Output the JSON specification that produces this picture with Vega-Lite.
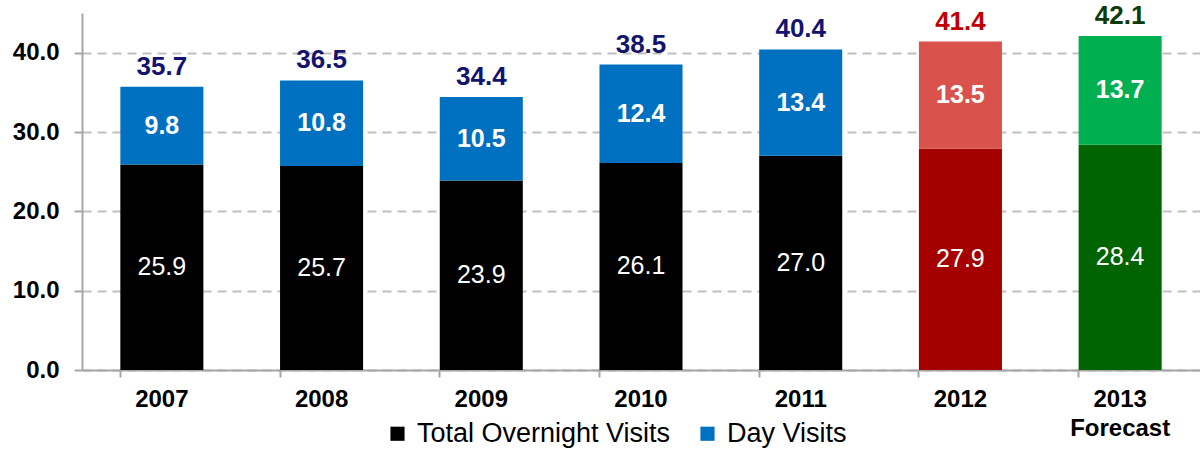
{
  "$schema": "https://vega.github.io/schema/vega-lite/v6.json",
  "width": 1118,
  "height": 357,
  "autosize": {"type": "none"},
  "padding": {"left": 82, "top": 13, "right": 0, "bottom": 79},
  "background": "white",
  "config": {
    "view": {"stroke": null},
    "font": "Liberation Sans"
  },
  "datasets": {
    "bars": [
      {"year": "2007", "series": "Total Overnight Visits", "value": 25.9},
      {"year": "2007", "series": "Day Visits", "value": 9.8},
      {"year": "2008", "series": "Total Overnight Visits", "value": 25.7},
      {"year": "2008", "series": "Day Visits", "value": 10.8},
      {"year": "2009", "series": "Total Overnight Visits", "value": 23.9},
      {"year": "2009", "series": "Day Visits", "value": 10.5},
      {"year": "2010", "series": "Total Overnight Visits", "value": 26.1},
      {"year": "2010", "series": "Day Visits", "value": 12.4},
      {"year": "2011", "series": "Total Overnight Visits", "value": 27.0},
      {"year": "2011", "series": "Day Visits", "value": 13.4},
      {"year": "2012", "series": "Total Overnight Visits", "value": 27.9},
      {"year": "2012", "series": "Day Visits", "value": 13.5},
      {"year": "2013", "series": "Total Overnight Visits", "value": 28.4},
      {"year": "2013", "series": "Day Visits", "value": 13.7}
    ],
    "totals": [
      {"year": "2007", "total": 35.7},
      {"year": "2008", "total": 36.5},
      {"year": "2009", "total": 34.4},
      {"year": "2010", "total": 38.5},
      {"year": "2011", "total": 40.4},
      {"year": "2012", "total": 41.4},
      {"year": "2013", "total": 42.1}
    ]
  },
  "encoding": {
    "x": {
      "field": "year",
      "type": "nominal",
      "sort": null,
      "scale": {"paddingInner": 0.48, "paddingOuter": 0.24},
      "axis": {
        "title": null,
        "labelAngle": 0,
        "labelFont": "Liberation Sans",
        "labelFontSize": 24,
        "labelFontWeight": "bold",
        "labelColor": "#000000",
        "labelPadding": 10,
        "labelLineHeight": 29,
        "labelExpr": "datum.value == '2013' ? ['2013', 'Forecast'] : datum.label",
        "bandPosition": 0,
        "domainColor": "#A6A6A6",
        "domainWidth": 2,
        "tickColor": "#A6A6A6",
        "tickWidth": 2,
        "tickSize": 7,
        "grid": false
      }
    }
  },
  "layer": [
    {
      "data": {"name": "bars"},
      "mark": {"type": "bar"},
      "encoding": {
        "y": {
          "field": "value",
          "type": "quantitative",
          "stack": "zero",
          "scale": {"domain": [0, 45], "nice": false},
          "axis": {
            "title": null,
            "values": [0, 10, 20, 30, 40],
            "format": ".1f",
            "labelFont": "Liberation Sans",
            "labelFontSize": 24,
            "labelFontWeight": "bold",
            "labelColor": "#000000",
            "labelPadding": 15,
            "domainColor": "#A6A6A6",
            "domainWidth": 2,
            "tickColor": "#A6A6A6",
            "tickWidth": 2,
            "tickSize": 8,
            "grid": true,
            "gridColor": "#C0C0C0",
            "gridWidth": 2,
            "gridDash": [9, 6]
          }
        },
        "color": {
          "condition": [
            {"test": "datum.year == '2012' && datum.series == 'Total Overnight Visits'", "value": "#A50000"},
            {"test": "datum.year == '2012' && datum.series == 'Day Visits'", "value": "#D9534C"},
            {"test": "datum.year == '2013' && datum.series == 'Total Overnight Visits'", "value": "#006400"},
            {"test": "datum.year == '2013' && datum.series == 'Day Visits'", "value": "#00B050"}
          ],
          "field": "series",
          "type": "nominal",
          "scale": {"domain": ["Total Overnight Visits", "Day Visits"], "range": ["#000000", "#0070C0"]},
          "legend": {
            "title": null,
            "orient": "none",
            "direction": "horizontal",
            "legendX": 302,
            "legendY": 407,
            "symbolType": "square",
            "symbolSize": 200,
            "symbolStrokeWidth": 0,
            "labelFont": "Liberation Sans",
            "labelFontSize": 27,
            "labelColor": "#000000",
            "labelLimit": 400,
            "labelOffset": 6,
            "columnPadding": 23
          }
        },
        "order": {"field": "series", "sort": "descending"}
      }
    },
    {
      "data": {"name": "bars"},
      "mark": {"type": "text", "color": "white", "fontSize": 25, "font": "Liberation Sans", "fontWeight": "normal", "baseline": "middle"},
      "encoding": {
        "y": {"field": "value", "type": "quantitative", "stack": "zero", "bandPosition": 0.5},
        "order": {"field": "series", "sort": "descending"},
        "text": {
          "condition": {"test": "datum.series == 'Total Overnight Visits'", "field": "value", "format": ".1f"},
          "value": ""
        }
      }
    },
    {
      "data": {"name": "bars"},
      "mark": {"type": "text", "color": "white", "fontSize": 25, "font": "Liberation Sans", "fontWeight": "bold", "baseline": "middle"},
      "encoding": {
        "y": {"field": "value", "type": "quantitative", "stack": "zero", "bandPosition": 0.5},
        "order": {"field": "series", "sort": "descending"},
        "text": {
          "condition": {"test": "datum.series == 'Day Visits'", "field": "value", "format": ".1f"},
          "value": ""
        }
      }
    },
    {
      "data": {"name": "totals"},
      "mark": {"type": "text", "fontSize": 26, "font": "Liberation Sans", "fontWeight": "bold", "baseline": "alphabetic", "dy": -12},
      "encoding": {
        "y": {"field": "total", "type": "quantitative"},
        "text": {"field": "total", "type": "quantitative", "format": ".1f"},
        "color": {
          "condition": [
            {"test": "datum.year == '2012'", "value": "#C00000"},
            {"test": "datum.year == '2013'", "value": "#0B3B0B"}
          ],
          "value": "#14146E"
        }
      }
    }
  ]
}
